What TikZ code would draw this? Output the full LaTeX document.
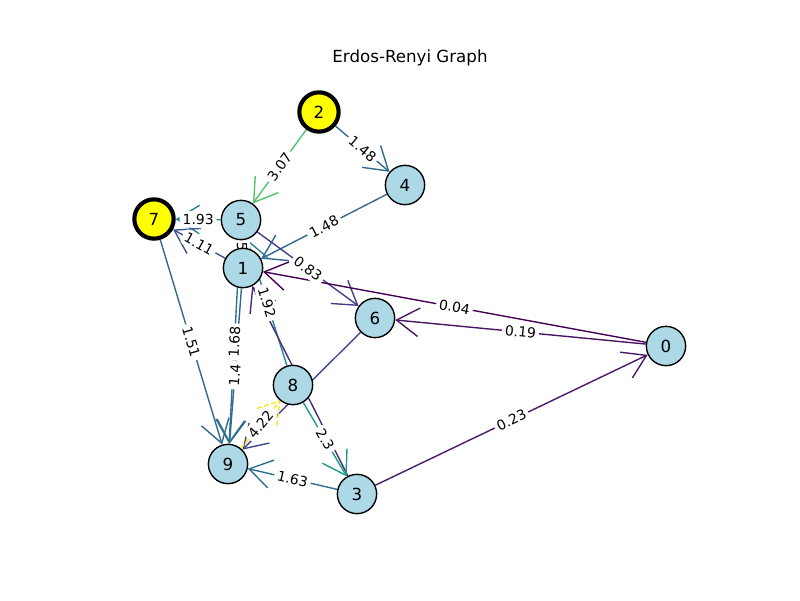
\documentclass[tikz,border=0pt]{standalone}
\usepackage{fontspec}
\setmainfont{DejaVu Sans}
\usetikzlibrary{arrows.meta,calc}
\pgfdeclarelayer{edgelayer}
\pgfdeclarelayer{labellayer}
\pgfsetlayers{edgelayer,labellayer,main}
\definecolor{nodeblue}{HTML}{ADD8E6}
\definecolor{nodeyellow}{HTML}{FFFF00}
\definecolor{cA}{HTML}{440154}% 0.04
\definecolor{cB}{HTML}{481466}% 0.19
\definecolor{cC}{HTML}{48186A}% 0.23
\definecolor{cD}{HTML}{433E85}% 0.83
\definecolor{cE}{HTML}{3A548C}% 1.11
\definecolor{cF}{HTML}{32648E}% 1.4
\definecolor{cG}{HTML}{31688E}% 1.48
\definecolor{cH}{HTML}{306A8E}% 1.51
\definecolor{cI}{HTML}{2C728E}% 1.63
\definecolor{cJ}{HTML}{2B758E}% 1.68
\definecolor{cK}{HTML}{25838E}% 1.92
\definecolor{cL}{HTML}{25848E}% 1.93
\definecolor{cM}{HTML}{1F9B8A}% 2.3
\definecolor{cN}{HTML}{51C56A}% 3.07
\definecolor{cO}{HTML}{FDE725}% 4.22
\definecolor{cP}{HTML}{472C7A}% 3-1
\definecolor{cQ}{HTML}{3E4989}% 6-9
\definecolor{cR}{HTML}{2A788E}% 1-5
\begin{document}
\begin{tikzpicture}[x=0.72pt,y=-0.72pt,
  vnode/.style={circle, draw=black, line width=1pt, fill=nodeblue, minimum size=28.3pt, inner sep=0pt, font=\fontsize{12}{14}\selectfont},
  ynode/.style={vnode, fill=nodeyellow, line width=3pt},
  edge/.style={line width=1pt, -{Straight Barb[length=16.2pt,width=20.6pt]}},
  dashedge/.style={line width=1pt, dash pattern=on 3.7pt off 1.6pt},
  elab/.style={midway, sloped, fill=white, rounded corners=3pt, inner sep=2.2pt, font=\fontsize{10}{12}\selectfont},
  titlefont/.style={font=\fontsize{12}{14}\selectfont}
]
\useasboundingbox (0,0) rectangle (800,600);
\node[titlefont] (title) at (410,58) {Erdos-Renyi Graph};

\node[vnode] (n0) at (666,346) {0};
\node[vnode] (n1) at (243,268) {1};
\node[ynode] (n2) at (319,112) {2};
\node[vnode] (n3) at (357,494) {3};
\node[vnode] (n4) at (405,185) {4};
\node[vnode] (n5) at (241,220) {5};
\node[vnode] (n6) at (375,318) {6};
\node[ynode] (n7) at (154,219) {7};
\node[vnode] (n8) at (293,385) {8};
\node[vnode] (n9) at (228,464) {9};

\begin{pgfonlayer}{edgelayer}
\draw[edge, cN] (n2) -- (n5);
\draw[edge, cG] (n2) -- (n4);
\draw[edge, cG] (n4) -- (n1);
\draw[edge, cL] (n5) -- (n7);
\draw[edge, cE] (n1) -- (n7);
\draw[edge, cD] (n5) -- (n6);
\draw[edge, cA] (n0) -- (n1);
\draw[edge, cB] (n0) -- (n6);
\draw[edge, cC] (n3) -- (n0);
\draw[edge, cK] (n8) -- (n5);
\draw[edge, cP] (n3) -- (n1);
\draw[edge, cQ] (n6) -- (n9);
\draw[edge, cM] (n8) -- (n3);
\draw[edge, cF] (n1) -- (n9);
\draw[edge, cJ] (n5) -- (n9);
\draw[edge, cH] (n7) -- (n9);
\draw[edge, cI] (n3) -- (n9);
\draw[edge, cR] (n1) -- (n5);
\draw[dashedge, cO] (n9) -- (n8) coordinate[pos=1] (t98);
\draw[dashedge, cO] ($(t98)!18pt!32:(n9)$) -- (t98) -- ($(t98)!18pt!-32:(n9)$);
\end{pgfonlayer}

\begin{pgfonlayer}{labellayer}
\path (n2) -- (n5) node[elab] {3.07};
\path (n2) -- (n4) node[elab] {1.48};
\path (n4) -- (n1) node[elab] {1.48};
\path (n5) -- (n7) node[elab] {1.93};
\path (n1) -- (n7) node[elab] {1.11};
\path (n5) -- (n6) node[elab] {0.83};
\path (n0) -- (n1) node[elab] {0.04};
\path (n0) -- (n6) node[elab] {0.19};
\path (n3) -- (n0) node[elab] {0.23};
\path (n8) -- (n5) node[elab] {1.92};
\path (n9) -- (n8) node[elab] {4.22};
\path (n8) -- (n3) node[elab] {2.3};
\path (n5) -- (n9) node[elab] {1.68};
\path (n1) -- (n9) node[elab, pos=0.56] {1.4};
\path (n7) -- (n9) node[elab] {1.51};
\path (n3) -- (n9) node[elab] {1.63};
\path (n1) -- (n5) node[elab] {1.57};
\end{pgfonlayer}
\end{tikzpicture}
\end{document}
